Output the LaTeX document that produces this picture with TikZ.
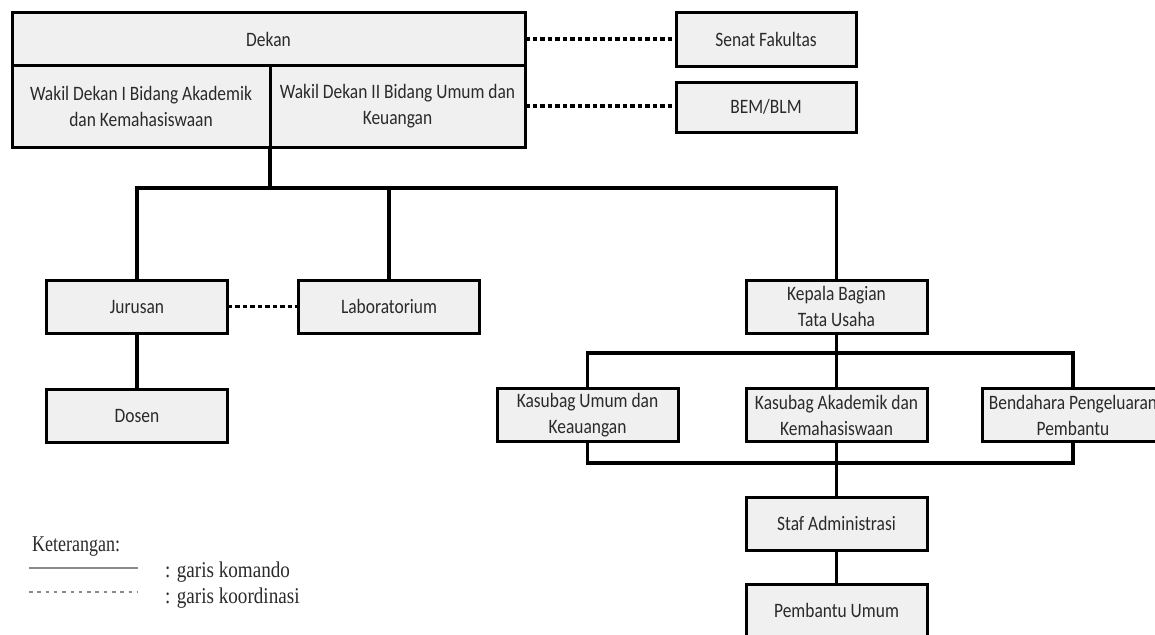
\documentclass[tikz,border=0pt]{standalone}
\usepackage{fontspec}
\setmainfont{Carlito}[FakeStretch=0.85]
\newfontfamily\legendfont{Liberation Serif}[FakeStretch=0.85]
\definecolor{boxgray}{HTML}{F0F0F0}
\definecolor{textgray}{HTML}{2A2A2A}
\definecolor{legendgray}{HTML}{8A8A8A}
\newcommand{\boxfont}{\fontsize{20.5}{26}\selectfont}
\newcommand{\legfont}{\legendfont\fontsize{22.5}{26}\selectfont}
\begin{document}
\begin{tikzpicture}[x=1pt,y=-1pt,
  box/.style={draw=black, line width=3pt, fill=boxgray, minimum width=181pt,
    minimum height=53pt, inner sep=0pt, outer sep=0pt, align=center,
    font=\boxfont, text=textgray},
  cmd/.style={draw=black, line width=3.2pt},
  coordline/.style={draw=black, line width=3.2pt, dash pattern=on 4.5pt off 3pt},
  legtext/.style={anchor=west, inner sep=0pt, font=\legfont, text=textgray}]
\clip (0,0) rectangle (1155,634);
\fill[white] (0,0) rectangle (1155,634);
% top block
\node[box, minimum width=513pt, minimum height=52pt] (dekan) at (268.5,39) {Dekan};
\node[box, minimum width=258pt, minimum height=82pt] (wd1) at (141,106) {Wakil Dekan I Bidang Akademik\\dan Kemahasiswaan};
\node[box, minimum width=255pt, minimum height=82pt] (wd2) at (397.5,106) {Wakil Dekan II Bidang Umum dan\\Keuangan};
\node[box, minimum width=180pt] (senat) at (766,39.5) {Senat Fakultas};
\node[box, minimum width=180pt, minimum height=50pt] (bem) at (766,107) {BEM/BLM};
% second level
\node[box] (jur) at (137,306.5) {Jurusan};
\node[box] (lab) at (389,306.5) {Laboratorium};
\node[box] (dosen) at (137,415.5) {Dosen};
\node[box] (kabag) at (836.5,306.5) {Kepala Bagian\\Tata Usaha};
\node[box] (kumum) at (587.5,415) {Kasubag Umum dan\\Keauangan};
\node[box] (kakad) at (836.5,415) {Kasubag Akademik dan\\Kemahasiswaan};
\node[box] (bend) at (1073,415) {Bendahara Pengeluaran\\Pembantu};
\node[box] (staf) at (836.5,523.5) {Staf Administrasi};
\node[box] (pemb) at (836.5,610.5) {Pembantu Umum};
% hubs
\coordinate (hub) at (270,188);
\coordinate (subhub) at (836.5,353);
\coordinate (lowhub) at (836.5,463);
% command lines
\draw[cmd] (wd1.south east) -- (hub);
\draw[cmd] (jur.north) |- (hub) -| (kabag.north);
\draw[cmd] (lab.north) -- (lab.north |- hub);
\draw[cmd] (jur.south) -- (dosen.north);
\draw[cmd] (kabag.south) -- (kakad.north);
\draw[cmd] (kumum.north) |- (subhub) -| (bend.north);
\draw[cmd] (kakad.south) -- (staf.north);
\draw[cmd] (kumum.south) |- (lowhub) -| (bend.south);
\draw[cmd] (staf.south) -- (pemb.north);
% coordination lines
\draw[coordline] (dekan.east) -- (dekan.east -| senat.west);
\draw[coordline] (wd2.east) -- (wd2.east -| bem.west);
\draw[coordline] (jur.east) -- (lab.west);
% legend
\node[legtext, xscale=0.94] (ket) at (32,547) {Keterangan:};
\coordinate (l1a) at (29,568);
\coordinate (l1b) at (138,568);
\coordinate (l2a) at (29,592);
\coordinate (l2b) at (138,592);
\draw[legendgray, line width=1.3pt] (l1a) -- (l1b);
\draw[legendgray, line width=2pt, dash pattern=on 3.5pt off 4.8pt] (l2a) -- (l2b);
\node[legtext] (kom) at (165,572) {: garis komando};
\node[legtext] (koo) at (165,598) {: garis koordinasi};
\end{tikzpicture}
\end{document}
